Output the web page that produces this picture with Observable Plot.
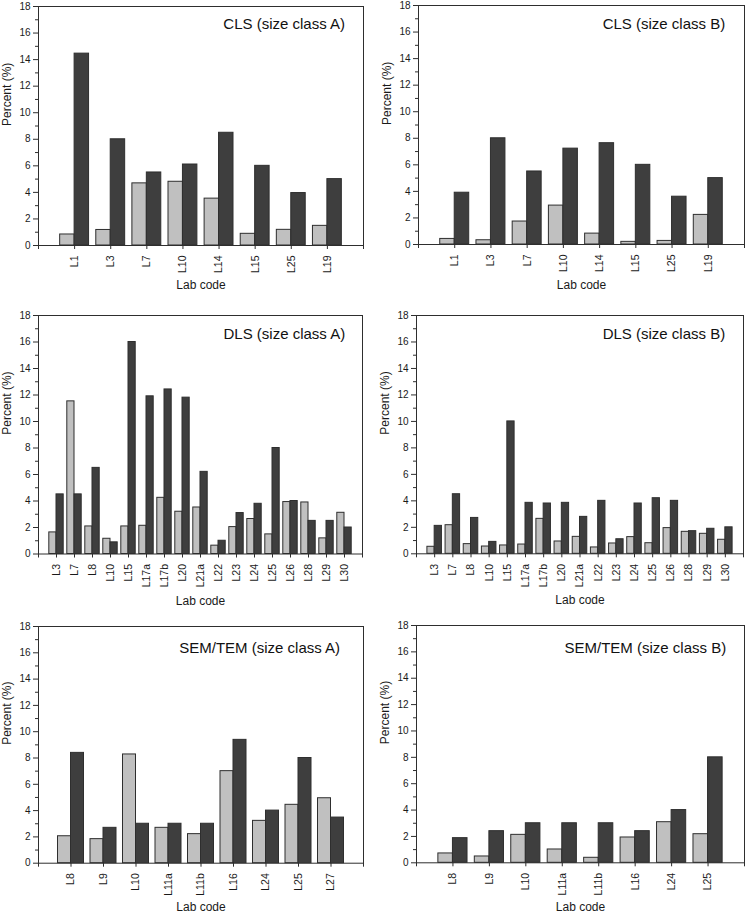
<!DOCTYPE html>
<html><head><meta charset="utf-8">
<script src="https://cdn.jsdelivr.net/npm/d3@7"></script>
<script src="https://cdn.jsdelivr.net/npm/@observablehq/plot@0.6"></script>
<style>
body{margin:0;background:#fff;width:746px;height:913px;position:relative;overflow:hidden;font-family:"Liberation Sans",Arial,sans-serif}
.panel{position:absolute}
.panel svg{overflow:visible}
</style></head><body>
<div id="p1" class="panel" style="left:0;top:0"></div>
<div id="p2" class="panel" style="left:373px;top:0"></div>
<div id="p3" class="panel" style="left:0;top:300px"></div>
<div id="p4" class="panel" style="left:373px;top:300px"></div>
<div id="p5" class="panel" style="left:0;top:605px"></div>
<div id="p6" class="panel" style="left:373px;top:605px"></div>
<script>
// ---- data ----
const clsLabs = ["L1","L3","L7","L10","L14","L15","L25","L19"];
const clsA_light = [0.83, 1.17, 4.68, 4.8, 3.53, 0.88, 1.18, 1.48];
const clsA_dark  = [14.45, 8.0, 5.5, 6.1, 8.49, 6.0, 3.95, 5.0];
const clsB_light = [0.42, 0.32, 1.73, 2.93, 0.82, 0.2, 0.27, 2.23];
const clsB_dark  = [3.9, 8.0, 5.5, 7.22, 7.63, 6.0, 3.6, 5.0];

const dlsLabs = ["L3","L7","L8","L10","L15","L17a","L17b","L20","L21a","L22","L23","L24","L25","L26","L28","L29","L30"];
const dlsA_light = [1.63, 11.52, 2.08, 1.15, 2.08, 2.13, 4.24, 3.19, 3.51, 0.63, 2.03, 2.64, 1.48, 3.92, 3.89, 1.18, 3.11];
const dlsA_dark  = [4.5, 4.5, 6.5, 0.88, 16.0, 11.9, 12.42, 11.8, 6.2, 1.0, 3.09, 3.79, 8.0, 4.0, 2.5, 2.5, 2.0];
const dlsB_light = [0.53, 2.16, 0.73, 0.55, 0.63, 0.7, 2.64, 0.93, 1.28, 0.48, 0.78, 1.26, 0.8, 1.94, 1.66, 1.51, 1.06];
const dlsB_dark  = [2.11, 4.5, 2.71, 0.9, 10.0, 3.85, 3.8, 3.85, 2.79, 4.0, 1.1, 3.8, 4.2, 4.0, 1.71, 1.89, 2.0];

const semALabs = ["L8","L9","L10","L11a","L11b","L16","L24","L25","L27"];
const semA_light = [2.05, 1.83, 8.27, 2.69, 2.21, 7.0, 3.22, 4.44, 4.94];
const semA_dark  = [8.39, 2.69, 3.0, 3.0, 3.0, 9.38, 4.0, 8.0, 3.47];
const semBLabs = ["L8","L9","L10","L11a","L11b","L16","L24","L25"];
const semB_light = [0.71, 0.48, 2.12, 1.01, 0.38, 1.92, 3.08, 2.17];
const semB_dark  = [1.87, 2.4, 3.0, 3.0, 3.0, 2.4, 4.0, 8.0];

const yMajor = [0,2,4,6,8,10,12,14,16,18];
const yMinor = [1,3,5,7,9,11,13,15,17];

const LIGHT = "#c0c0c0", DARK = "#3e3e3e", LINE = "#2e2e2e";

function panel(o) {
  const rows = o.labs.map((lab, k) => ({i: k + 1, lab, a: o.light[k], b: o.dark[k]}));
  const n = o.labs.length;
  const xt = d3.range(0, n + 2);
  return Plot.plot({
    width: 373, height: o.height,
    marginLeft: o.ml, marginRight: o.mr, marginTop: o.mt, marginBottom: o.mb,
    style: {fontFamily: '"Liberation Sans", Arial, sans-serif', color: "#1a1a1a", background: "white", overflow: "visible"},
    x: {type: "linear", domain: [0, n + 1], label: null},
    y: {domain: [0, 18], label: null},
    marks: [
      Plot.rect(rows, {x1: d => d.i - 0.4, x2: d => d.i, y1: 0, y2: "a", fill: LIGHT, stroke: LINE, strokeWidth: 1}),
      Plot.rect(rows, {x1: d => d.i, x2: d => d.i + 0.4, y1: 0, y2: "b", fill: DARK, stroke: LINE, strokeWidth: 1}),
      Plot.axisY(yMajor, {tickSize: 5, tickPadding: 3, fontSize: 10, label: null, stroke: LINE}),
      Plot.axisY(yMinor, {tickSize: 3, tickFormat: () => "", label: null, stroke: LINE}),
      Plot.axisX(xt, {tickSize: 4, tickPadding: 6, tickRotate: -90, fontSize: 10.5, label: null, stroke: LINE,
        tickFormat: i => (i >= 1 && i <= n) ? o.labs[i - 1] : ""}),
      Plot.frame({stroke: LINE, strokeWidth: 1}),
      Plot.text([o.title], {text: d => d, frameAnchor: "top-right", dx: -o.tdx, dy: o.tdy, fontSize: 15, textAnchor: "end", lineAnchor: "middle", fill: "#111"}),
      Plot.text(["Percent (%)"], {text: d => d, frameAnchor: "left", dx: -31, rotate: -90, fontSize: 12, lineAnchor: "middle"}),
      Plot.text(["Lab code"], {text: d => d, frameAnchor: "bottom", dy: o.xdy, fontSize: 12, lineAnchor: "middle"})
    ]
  });
}

document.getElementById("p1").append(panel({labs: clsLabs, light: clsA_light, dark: clsA_dark, title: "CLS (size class A)",
  height: 300, ml: 38, mr: 10, mt: 6, mb: 55, tdx: 18.5, tdy: 17.6, xdy: 40}));
document.getElementById("p2").append(panel({labs: clsLabs, light: clsB_light, dark: clsB_dark, title: "CLS (size class B)",
  height: 300, ml: 45, mr: 2, mt: 5, mb: 56, tdx: 19.3, tdy: 19, xdy: 40.7}));
document.getElementById("p3").append(panel({labs: dlsLabs, light: dlsA_light, dark: dlsA_dark, title: "DLS (size class A)",
  height: 305, ml: 38, mr: 11, mt: 15, mb: 51.5, tdx: 17.3, tdy: 19, xdy: 46.7}));
document.getElementById("p4").append(panel({labs: dlsLabs, light: dlsB_light, dark: dlsB_dark, title: "DLS (size class B)",
  height: 305, ml: 43, mr: 3, mt: 15, mb: 51.7, tdx: 18.3, tdy: 18.6, xdy: 46.7}));
document.getElementById("p5").append(panel({labs: semALabs, light: semA_light, dark: semA_dark, title: "SEM/TEM (size class A)",
  height: 308, ml: 38, mr: 10, mt: 21, mb: 50.3, tdx: 23.4, tdy: 21.3, xdy: 44}));
document.getElementById("p6").append(panel({labs: semBLabs, light: semB_light, dark: semB_dark, title: "SEM/TEM (size class B)",
  height: 308, ml: 43, mr: 2, mt: 20, mb: 50.7, tdx: 18.3, tdy: 22.7, xdy: 44.4}));
</script>
</body></html>
